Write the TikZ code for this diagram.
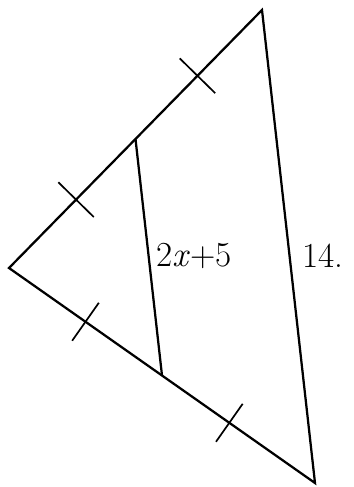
\documentclass[tikz,border=0pt]{standalone}
\usetikzlibrary{calc}
\begin{document}
\begin{tikzpicture}[x=0.025cm,y=-0.025cm,line width=1.6pt,line join=miter,
    every node/.style={font=\fontsize{25}{28}\selectfont}]
    \useasboundingbox (0,0) rectangle (354,487);
    % Triángulo con su segmento medio.
    \coordinate (L) at (9,268);
    \coordinate (T) at (262,10);
    \coordinate (B) at (315,483);
    \coordinate (M1) at ($(L)!.5!(T)$);
    \coordinate (M2) at ($(L)!.5!(B)$);
    \draw (T) -- (L) -- (B) -- cycle;
    \draw (M1) -- (M2);

    % Marcas de segmentos iguales.
    \foreach \f in {.265,.745} {
        \draw[line width=1.2pt] ($($(L)!\f!(T)$)!.62cm!90:(T)$) -- ($($(L)!\f!(T)$)!.62cm!-90:(T)$);
    }
    \foreach \f in {.25,.72} {
        \draw[line width=1.2pt] ($($(L)!\f!(B)$)!.58cm!90:(B)$) -- ($($(L)!\f!(B)$)!.58cm!-90:(B)$);
    }

    \node (mid) at (194,256) {2\textit{x}+5};
    \node (side) at (323,256) {14.};
\end{tikzpicture}
\end{document}
